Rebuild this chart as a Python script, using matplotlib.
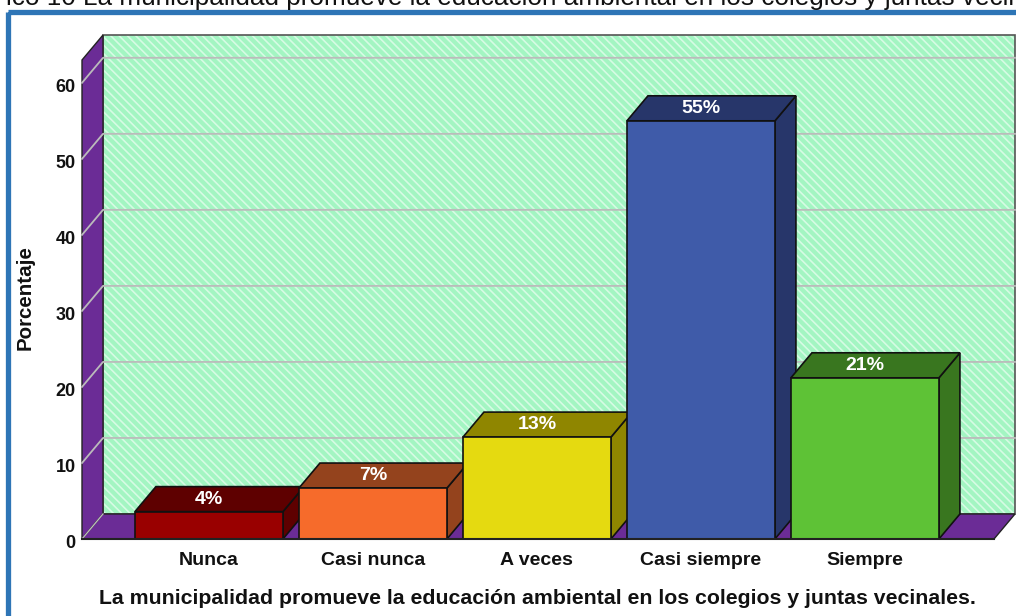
import matplotlib
matplotlib.use("Agg")
import matplotlib.pyplot as plt
from matplotlib.patches import Polygon, Rectangle
from matplotlib.transforms import ScaledTranslation

plt.rcParams['font.family'] = ['Liberation Sans', 'DejaVu Sans']
plt.rcParams['hatch.linewidth'] = 1.2

categorias = ["Nunca", "Casi nunca", "A veces", "Casi siempre", "Siempre"]
valores = [3.6, 6.7, 13.4, 55.0, 21.2]
etiquetas = ["4%", "7%", "13%", "55%", "21%"]
ticks_y = [0, 10, 20, 30, 40, 50, 60]
frente = ["#990000", "#F66B2B", "#E5DA10", "#3F5BA9", "#5EC236"]
lado = ["#5E0000", "#94431D", "#8F8600", "#27366A", "#39761F"]
titulo = "ico 10 La municipalidad promueve la educación ambiental en los colegios y juntas vecinales"
xlabel = "La municipalidad promueve la educación ambiental en los colegios y juntas vecinales."
ylabel = "Porcentaje"

W, H = 1016, 616
fig = plt.figure(figsize=(W / 100, H / 100), dpi=100, facecolor="white")

# marco azul y titulo cortado arriba
fondo = fig.add_axes([0, 0, 1, 1])
fondo.set_xlim(0, W)
fondo.set_ylim(H, 0)
fondo.axis("off")
fondo.add_patch(Rectangle((8, 12.3), W, H, fc="none", ec="#2E75B6", lw=3.8, joinstyle="round"))
fondo.text(6, -2, titulo, fontsize=18.8, color="#111111", va="center", ha="left")

# ejes: plano frontal del grafico
x0, x1, ytop, ybot = 82, 994, 60, 539
ax = fig.add_axes([x0 / W, 1 - ybot / H, (x1 - x0) / W, (ybot - ytop) / H])
ax.patch.set_visible(False)
ax.set_xlim(-0.774, 4.787)
ax.set_ylim(0, 63)
for s in ax.spines.values():
    s.set_visible(False)

dx = 21 / 164  # profundidad en unidades de x
dy = 25 / 7.6  # profundidad en unidades de y
ancho = 148 / 164
xa, xb = ax.get_xlim()
ya, yb = ax.get_ylim()
ec = "#111111"


def poli(pts, fc, ec=ec, lw=1.2, z=2, **kw):
    p = Polygon(pts, closed=True, fc=fc, ec=ec, lw=lw, zorder=z, clip_on=False, **kw)
    ax.add_patch(p)


# pared del fondo, pared izquierda y piso
poli([(xa + dx, ya + dy), (xb + dx, ya + dy), (xb + dx, yb + dy), (xa + dx, yb + dy)],
     "#A3F5C2", ec="#D6FBE4", lw=0, z=1, hatch="\\\\\\\\")
poli([(xa + dx, ya + dy), (xb + dx, ya + dy), (xb + dx, yb + dy), (xa + dx, yb + dy)],
     "none", ec="#555555", lw=1.2, z=1.1)
poli([(xa, ya), (xa + dx, ya + dy), (xa + dx, yb + dy), (xa, yb)], "#6B2C96", ec="#222222", lw=1.0, z=1.2)
poli([(xa, ya), (xb, ya), (xb + dx, ya + dy), (xa + dx, ya + dy)], "#6B2C96", ec="#222222", lw=1.0, z=1.2)

# lineas de la grilla
for t in ticks_y:
    if t > 0:
        ax.plot([xa, xa + dx, xb + dx], [t, t + dy, t + dy], color="#BBBBBB", lw=1.3, zorder=1.5, clip_on=False)
    else:
        ax.plot([xa, xa + dx], [t, t + dy], color="#BBBBBB", lw=1.0, zorder=1.5, clip_on=False)

# barras en 3d
for i, v in enumerate(valores):
    a, b = i - ancho / 2, i + ancho / 2
    poli([(b, 0), (b + dx, dy), (b + dx, v + dy), (b, v)], lado[i], z=3 + i)
    poli([(a, v), (b, v), (b + dx, v + dy), (a + dx, v + dy)], lado[i], z=3 + i)
    poli([(a, 0), (b, 0), (b, v), (a, v)], frente[i], z=3 + i)
    ax.text(i, v + dy / 2, etiquetas[i], color="white", fontsize=14, fontweight="bold",
            ha="center", va="center", zorder=20)

ax.plot([xa, xb], [0, 0], color="#222222", lw=1.5, zorder=15, clip_on=False)

ax.set_xticks(range(len(categorias)))
ax.set_xticklabels(categorias, fontsize=14, fontweight="bold", color="#111111")
ax.set_yticks(ticks_y)
ax.set_yticklabels([str(t) for t in ticks_y], fontsize=13, fontweight="bold", color="#111111")
ax.tick_params(axis="both", length=0)
ax.tick_params(axis="x", pad=9.5)
ax.tick_params(axis="y", pad=4.5)
for lab in ax.get_yticklabels():
    lab.set_transform(lab.get_transform() + ScaledTranslation(0, -3 / 100, fig.dpi_scale_trans))

fondo.text(537, 598, xlabel, fontsize=15.3, fontweight="bold", color="#111111", ha="center", va="center")
fondo.text(25, 298, ylabel, fontsize=14.8, fontweight="bold", color="#111111", rotation=90, ha="center", va="center")

fig.savefig("out.png", dpi=100)
